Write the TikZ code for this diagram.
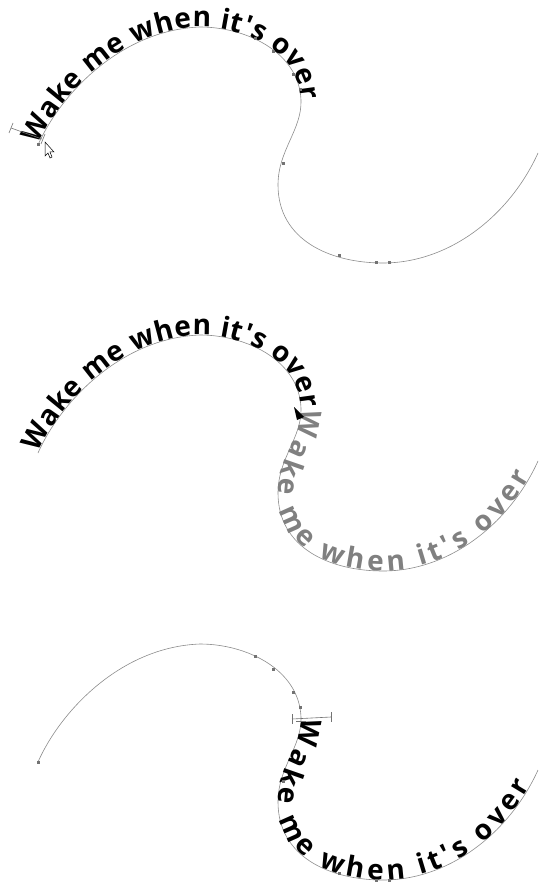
\documentclass[tikz,border=0pt]{standalone}
\usepackage{fontspec}
\newfontfamily\wakefont{Open Sans}
\usetikzlibrary{decorations.text}

\newcommand\curveA{(38,145) .. controls (60,95) and (120,30) .. (200,27)
  .. controls (246,27) and (299,52) .. (301,100)}
\newcommand\curveB{(301,100) .. controls (302,130) and (278,150) .. (278,185)
  .. controls (278,240) and (330,263) .. (383,263)
  .. controls (450,263) and (510,215) .. (538,153)}

\begin{document}
\begin{tikzpicture}[x=1pt,y=-1pt,
  wire/.style={draw=black!45,line width=0.6pt},
  handle/.style={fill=black!55},
  tick/.style={draw=black!55,line width=0.6pt},
  ontext/.style 2 args={decorate,decoration={text along path,
    text align={fit to path,right indent=#2},
    text={|\wakefont\bfseries\fontsize{28}{28}\selectfont\color{#1}|Wake me when it's over}}}]
  \useasboundingbox (0,0) rectangle (538,882);

  % first: text at the start of the path
  \begin{scope}
    \draw[wire] \curveA;
    \draw[wire] \curveB;
    \path[ontext={black}{0pt}] \curveA;
    \foreach \x/\y in {38/145,255/39,273/52,293/75,300/90,283/164,339/256,376/263,389/263}
      \fill[handle] (\x-1.5,\y-1.5) rectangle ++(3,3);
    \draw[tick] (42,139) -- (11,128);
    \draw[tick] (13,123) -- (9,133);
    \draw[tick] (45,134) -- (41,144);
    \draw[fill=white,line width=0.5pt] (45,142) -- (45,156) -- (48,153) -- (50,158)
      -- (52,157) -- (50,152) -- (54,152) -- cycle;
  \end{scope}

  % second: text flows on
  \begin{scope}[shift={(0,308)}]
    \draw[wire] \curveA;
    \draw[wire] \curveB;
    \path[ontext={black}{0pt}] \curveA;
    \path[ontext={black!50}{18pt}] \curveB;
    \fill (294,99) -- (304,109) -- (297,112) -- cycle;
  \end{scope}

  % third: text moved along the path
  \begin{scope}[shift={(0,617)}]
    \draw[wire] \curveA;
    \draw[wire] \curveB;
    \path[ontext={black}{18pt}] \curveB;
    \foreach \x/\y in {38/145,255/39,273/52,293/75,300/90,283/164,339/256,376/263,389/263}
      \fill[handle] (\x-1.5,\y-1.5) rectangle ++(3,3);
    \draw[tick] (292,102) -- (331,100);
    \draw[tick] (292,97) -- (292,107);
    \draw[tick] (331,95) -- (331,105);
    \draw[tick] (296,104) -- (306,104);
  \end{scope}
\end{tikzpicture}
\end{document}
